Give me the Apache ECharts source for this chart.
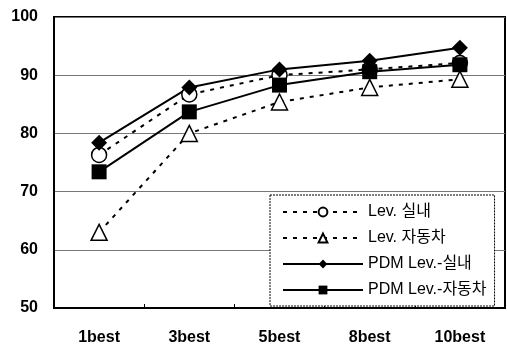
<!DOCTYPE html>
<html>
<head>
<meta charset="utf-8">
<script src="https://cdn.jsdelivr.net/npm/echarts@6/dist/echarts.min.js"></script>
<style>
  html, body { margin: 0; padding: 0; background: #fff; }
  #chart { width: 507px; height: 349px; }
</style>
</head>
<body>
<div id="chart"></div>
<script>
var categories = ['1best', '3best', '5best', '8best', '10best'];
var levIndoor = [76.3, 86.7, 90.0, 91.0, 92.1];
var levCar = [63.0, 80.0, 85.4, 87.9, 89.3];
var pdmIndoor = [78.4, 87.9, 91.0, 92.5, 94.7];
var pdmCar = [73.4, 83.7, 88.3, 90.6, 91.8];
var seriesNames = ['Lev. 실내', 'Lev. 자동차', 'PDM Lev.-실내', 'PDM Lev.-자동차'];

var chart = echarts.init(document.getElementById('chart'));
var font = '"Liberation Sans", Arial, "Noto Sans CJK KR", sans-serif';

function makeSeries(name, data, symbol, open, dashed, size) {
    return {
        name: name,
        type: 'line',
        data: data,
        symbol: symbol,
        symbolSize: size,
        showAllSymbol: true,
        lineStyle: {
            color: '#000',
            width: 2,
            type: dashed ? [4, 6] : 'solid'
        },
        itemStyle: {
            color: open ? '#fff' : '#000',
            borderColor: '#000',
            borderWidth: open ? 1.5 : 0
        },
        emphasis: { disabled: true },
        animation: false
    };
}

var option = {
    animation: false,
    textStyle: { fontFamily: font },
    grid: {
        left: 54,
        right: 2,
        top: 17,
        bottom: 41,
        show: true,
        borderColor: '#000',
        borderWidth: 2
    },
    legend: {
        orient: 'vertical',
        left: 270,
        top: 195,
        padding: [9, 8, 8, 12],
        itemGap: 10,
        itemWidth: 80,
        itemHeight: 11,
        backgroundColor: '#fff',
        borderColor: '#000',
        borderWidth: 1,
        borderType: [2, 1],
        textStyle: { fontSize: 16, color: '#000', fontFamily: font },
        data: seriesNames
    },
    xAxis: {
        type: 'category',
        data: categories,
        boundaryGap: true,
        axisLine: { lineStyle: { color: '#000', width: 2 } },
        axisTick: { show: true, inside: true, length: 4, lineStyle: { color: '#000' } },
        axisLabel: { color: '#000', fontSize: 16, fontWeight: 'bold', margin: 22 }
    },
    yAxis: {
        type: 'value',
        min: 50,
        max: 100,
        interval: 10,
        axisLine: { show: true, lineStyle: { color: '#000', width: 2 } },
        axisTick: { show: false },
        splitLine: { lineStyle: { color: '#777', width: 1 } },
        axisLabel: { color: '#000', fontSize: 16, fontWeight: 'bold', margin: 16 }
    },
    series: [
        makeSeries(seriesNames[0], levIndoor, 'circle', true, true, 15),
        makeSeries(seriesNames[1], levCar, 'triangle', true, true, 16),
        makeSeries(seriesNames[2], pdmIndoor, 'diamond', false, false, 16),
        makeSeries(seriesNames[3], pdmCar, 'rect', false, false, 15)
    ]
};
chart.setOption(option);
</script>
</body>
</html>
